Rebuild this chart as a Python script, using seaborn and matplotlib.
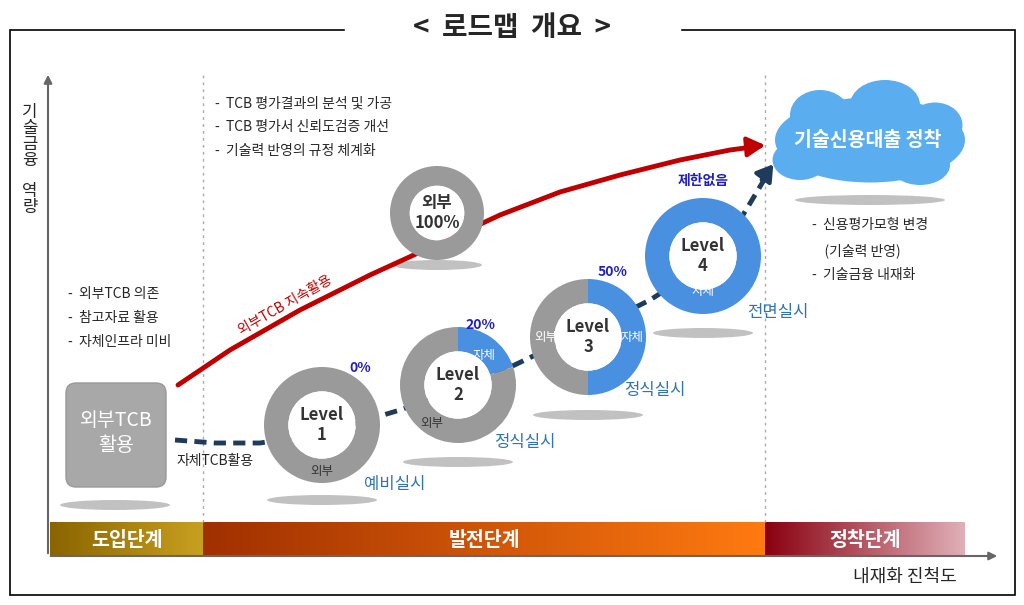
import numpy as np
import matplotlib
matplotlib.use("Agg")
import matplotlib.pyplot as plt
import seaborn as sns
from matplotlib.patches import FancyBboxPatch, Ellipse, Rectangle

sns.set_theme(style="white")
plt.rcParams['font.family'] = ['Noto Sans CJK KR', 'DejaVu Sans']

H = 605
def Y(y): return H - y

# data
levels = ["Level\n1", "Level\n2", "Level\n3", "Level\n4"]
self_share = [0, 20, 50, 100]
share_labels = ["0%", "20%", "50%", "제한없음"]
stage_names = ["예비실시", "정식실시", "정식실시", "전면실시"]
centers = [(322, 425), (458, 385), (588, 337), (703, 256)]
dash_x = [175, 215, 260, 300, 350, 400, 450, 500, 550, 600, 650, 700, 740, 770]
dash_y = [440, 443, 443, 437, 425, 410, 392, 372, 348, 325, 300, 268, 220, 170]
red_x = [178, 230, 300, 370, 440, 500, 560, 620, 680, 730, 760]
red_y = [385, 350, 310, 275, 243, 215, 192, 175, 160, 150, 146]
stages = ["도입단계", "발전단계", "정착단계"]

fig = plt.figure(figsize=(10.24, 6.05), dpi=100)
ax = fig.add_axes([0, 0, 1, 1])

# border and title
ax.add_patch(Rectangle((10, Y(595)), 1005, 565, fill=False, lw=1.2, color='black'))
ax.add_patch(Rectangle((345, Y(45)), 335, 35, color='white', zorder=2))
ax.text(512, Y(28), "<  로드맵  개요  >", ha='center', va='center', fontsize=20, fontweight='bold', zorder=3)

def grad(x0, x1, c0, c1):
    g = np.linspace(0, 1, 256)[None, :, None]
    c0 = np.array(matplotlib.colors.to_rgb(c0)); c1 = np.array(matplotlib.colors.to_rgb(c1))
    ax.imshow(c0 + (c1 - c0) * g, extent=(x0, x1, Y(556), Y(522)), aspect='auto', zorder=1)
grad(50, 203, '#8a6400', '#c8a020')
grad(203, 765, '#a03000', '#ff7a10')
grad(765, 965, '#8a0010', '#e0b0b8')
for name, (a, b) in zip(stages, [(50, 203), (203, 765), (765, 965)]):
    ax.text((a + b) / 2, Y(540), name, ha='center', va='center', color='white', fontsize=14, fontweight='bold', zorder=3)

ax.annotate("", xy=(48, Y(72)), xytext=(48, Y(556)), arrowprops=dict(arrowstyle='-|>', color='#666', lw=1.5))
ax.annotate("", xy=(1000, Y(556)), xytext=(48, Y(556)), arrowprops=dict(arrowstyle='-|>', color='#666', lw=1.5))
ax.text(905, Y(577), "내재화 진척도", ha='center', va='center', fontsize=13)
ax.text(30, Y(160), "기\n술\n금\n융\n\n역\n량", ha='center', va='center', fontsize=12, linespacing=0.9)

for x in (203, 765):
    ax.plot([x, x], [Y(75), Y(522)], ls=(0, (2, 3)), color='#aaa', lw=1)

sns.lineplot(x=red_x, y=[Y(v) for v in red_y], ax=ax, color='#c00000', lw=3.5, sort=False, zorder=2)
ax.annotate("", xy=(768, Y(145)), xytext=(745, Y(147)), arrowprops=dict(arrowstyle='-|>,head_width=0.5,head_length=0.9', color='#c00000', lw=3))
sns.lineplot(x=dash_x, y=[Y(v) for v in dash_y], ax=ax, color='#1f3b5a', lw=3.5, sort=False, zorder=2)
ax.lines[-1].set_linestyle((0, (2.5, 1.5)))
ax.annotate("", xy=(775, Y(162)), xytext=(760, Y(182)), arrowprops=dict(arrowstyle='-|>,head_width=0.5,head_length=0.8', color='#1f3b5a', lw=3))
ax.text(285, Y(305), "외부TCB 지속활용", rotation=30, ha='center', va='center', color='#c00000', fontsize=10)

for cx, cy, w in [(115, 505, 110), (322, 500, 110), (458, 462, 110), (588, 415, 110), (703, 333, 100), (437, 265, 90), (870, 200, 150)]:
    ax.add_patch(Ellipse((cx, Y(cy)), w, 10, color='#777', alpha=0.45, lw=0, zorder=1))

ax.add_patch(FancyBboxPatch((68, Y(485)), 96, 100, boxstyle='round,pad=2,rounding_size=10', fc='#a8a8a8', ec='#999', zorder=3))
ax.text(116, Y(433), "외부TCB\n활용", ha='center', va='center', color='white', fontsize=14, zorder=4)
ax.text(215, Y(461), "자체TCB활용", ha='center', va='center', fontsize=10, zorder=4)

for cx, cy, rx, ry in [(870, 140, 190, 85), (820, 115, 60, 50), (885, 105, 70, 50), (935, 125, 55, 45), (800, 160, 55, 40), (920, 165, 60, 40)]:
    ax.add_patch(Ellipse((cx, Y(cy)), rx, ry, fc='#5aaef0', ec='none', zorder=3))
ax.text(868, Y(140), "기술신용대출 정착", ha='center', va='center', color='white', fontsize=14, fontweight='bold', zorder=4)

R = 58
def donut(c, values, colors, label, r=R):
    wedges, _ = ax.pie(values, colors=colors, center=(c[0], Y(c[1])), radius=r, startangle=90, counterclock=False,
                       wedgeprops=dict(width=r * 0.42, edgecolor='none'), frame=True)
    for w in wedges:
        w.set_zorder(4)
    ax.add_patch(Ellipse((c[0], Y(c[1])), r * 1.16, r * 1.16, fc='white', ec='none', zorder=4))
    ax.text(c[0], Y(c[1]), label, ha='center', va='center', fontsize=12, fontweight='bold', color='#333', zorder=5)

for lv, s, c in zip(levels, self_share, centers):
    vals = [s, 100 - s]
    donut(c, [v if v > 0 else 1e-9 for v in vals], ['#4a90e0', '#9a9a9a'], lv)
donut((437, 213), [1e-9, 100], ['#4a90e0', '#9a9a9a'], "외부\n100%", r=47)
ax.set_xlim(0, 1024); ax.set_ylim(0, H); ax.set_aspect('equal'); ax.axis('off')

for lab, c, dx, dy in zip(share_labels, centers, [38, 22, 25, 0], [-57, -60, -65, -75]):
    ax.text(c[0] + dx, Y(c[1] + dy), lab, ha='center', va='center', color='#2020c0', fontsize=10, fontweight='bold', zorder=6)
for nm, (x, y) in zip(stage_names, [(395, 485), (525, 442), (655, 390), (778, 312)]):
    ax.text(x, Y(y), nm, ha='center', va='center', color='#2e75b6', fontsize=12, zorder=6)
for t, x, y in [("외부", 322, 471), ("외부", 432, 424), ("자체", 484, 355), ("외부", 546, 337), ("자체", 632, 337), ("자체", 703, 292)]:
    ax.text(x, Y(y), t, ha='center', va='center', color='#333' if x < 440 else 'white', fontsize=9, zorder=6)

ax.text(68, Y(318), "-  외부TCB 의존\n-  참고자료 활용\n-  자체인프라 미비", ha='left', va='center', fontsize=10, linespacing=1.9)
ax.text(215, Y(127), "-  TCB 평가결과의 분석 및 가공\n-  TCB 평가서 신뢰도검증 개선\n-  기술력 반영의 규정 체계화", ha='left', va='center', fontsize=10, linespacing=1.9)
ax.text(812, Y(250), "-  신용평가모형 변경\n    (기술력 반영)\n-  기술금융 내재화", ha='left', va='center', fontsize=10, linespacing=1.9)

fig.savefig("out.png", dpi=100)
